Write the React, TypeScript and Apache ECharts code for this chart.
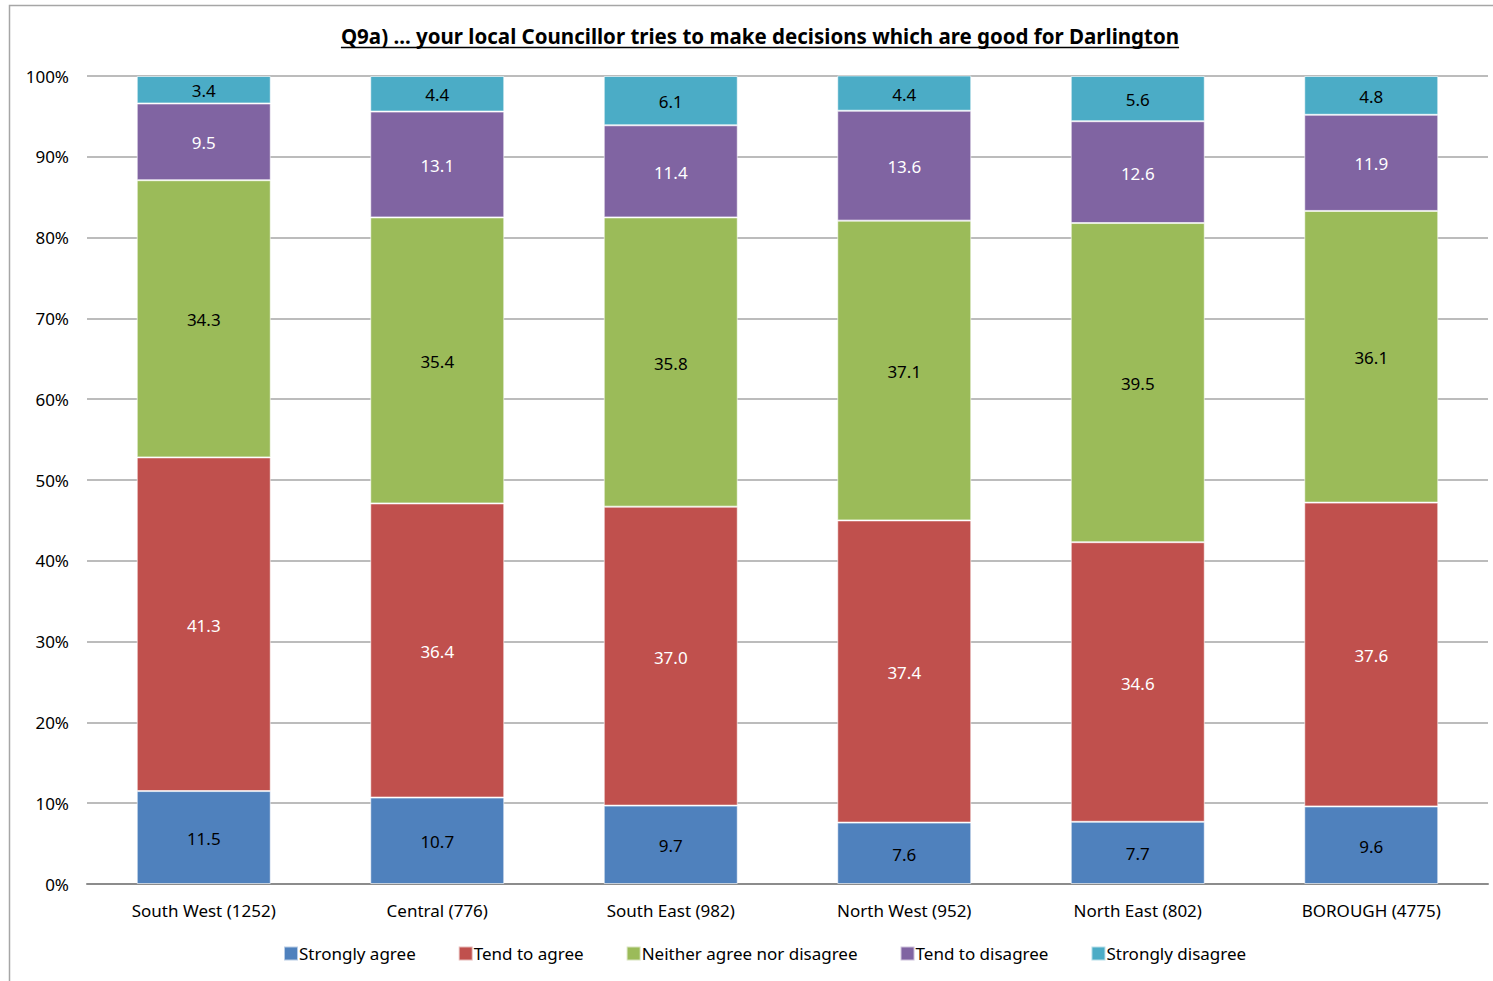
import React, { useEffect, useRef } from "react";
import * as echarts from "echarts";

const categories = ["South West (1252)", "Central (776)", "South East (982)", "North West (952)", "North East (802)", "BOROUGH (4775)"];
const seriesNames = ["Strongly agree", "Tend to agree", "Neither agree nor disagree", "Tend to disagree", "Strongly disagree"];
const stronglyAgree = [11.5, 10.7, 9.7, 7.6, 7.7, 9.6];
const tendToAgree = [41.3, 36.4, 37.0, 37.4, 34.6, 37.6];
const neither = [34.3, 35.4, 35.8, 37.1, 39.5, 36.1];
const tendToDisagree = [9.5, 13.1, 11.4, 13.6, 12.6, 11.9];
const stronglyDisagree = [3.4, 4.4, 6.1, 4.4, 5.6, 4.8];
const colors = ["#4F81BD", "#C0504D", "#9BBB59", "#8064A2", "#4BACC6"];
const labelColors = ["#000000", "#ffffff", "#000000", "#ffffff", "#000000"];
const title = "Q9a) ... your local Councillor tries to make decisions which are good for Darlington";

const FONT = "'Noto Sans', 'Open Sans', sans-serif";

export default function App() {
  const ref = useRef<HTMLDivElement>(null);
  useEffect(() => {
    if (!ref.current) return;
    const chart = echarts.init(ref.current, null, { renderer: "svg" });
    const titleSize = 20.5;
    const ctx = document.createElement("canvas").getContext("2d")!;
    ctx.font = `bold ${titleSize}px 'Noto Sans'`;
    const tw = ctx.measureText(title).width;
    const cx = 760;
    const data = [stronglyAgree, tendToAgree, neither, tendToDisagree, stronglyDisagree];
    chart.setOption({
      animation: false,
      color: colors,
      grid: { left: 87, right: 5, top: 76, bottom: 97, containLabel: false },
      graphic: [
        { type: "rect", shape: { x: 9.5, y: 5.5, width: 1600, height: 1100 }, style: { fill: "none", stroke: "#a6a6a6", lineWidth: 1.5 }, silent: true },
        { type: "text", x: cx, y: 36, style: { text: title, font: `bold ${titleSize}px 'Noto Sans'`, fill: "#000", textAlign: "center", textVerticalAlign: "middle" } },
        { type: "line", shape: { x1: cx - tw / 2, y1: 47.5, x2: cx + tw / 2, y2: 47.5 }, style: { stroke: "#000", lineWidth: 1.5 } },
      ],
      legend: {
        bottom: 14,
        left: 278,
        itemWidth: 14,
        itemHeight: 14,
        itemGap: 42,
        icon: "rect",
        textStyle: { fontFamily: FONT, fontSize: 17, color: "#000", padding: [0, 0, 0, -4] },
        data: seriesNames,
      },
      xAxis: {
        type: "category",
        data: categories,
        axisTick: { show: false },
        axisLine: { lineStyle: { color: "#8c8c8c", width: 2 } },
        axisLabel: { fontFamily: FONT, fontSize: 17, color: "#000", margin: 18 },
      },
      yAxis: {
        type: "value",
        min: 0,
        max: 100,
        interval: 10,
        axisLine: { show: false },
        axisTick: { show: false },
        splitLine: { lineStyle: { color: "#a6a6a6", width: 1.5 } },
        axisLabel: { formatter: "{value}%", fontFamily: FONT, fontSize: 17, color: "#000", margin: 18 },
      },
      series: seriesNames.map((name, i) => ({
        name,
        type: "bar",
        stack: "total",
        barWidth: 134,
        data: data[i],
        itemStyle: { color: colors[i], borderColor: "rgba(255,255,255,0.6)", borderWidth: 1 },
        label: {
          show: true,
          position: "inside",
          formatter: (p: any) => Number(p.value).toFixed(1),
          fontFamily: FONT,
          fontSize: 17,
          color: labelColors[i],
          offset: [0, 1],
        },
      })),
    });
    return () => chart.dispose();
  }, []);
  return <div ref={ref} style={{ position: "absolute", left: 0, top: 0, width: 1493, height: 981 }} />;
}
